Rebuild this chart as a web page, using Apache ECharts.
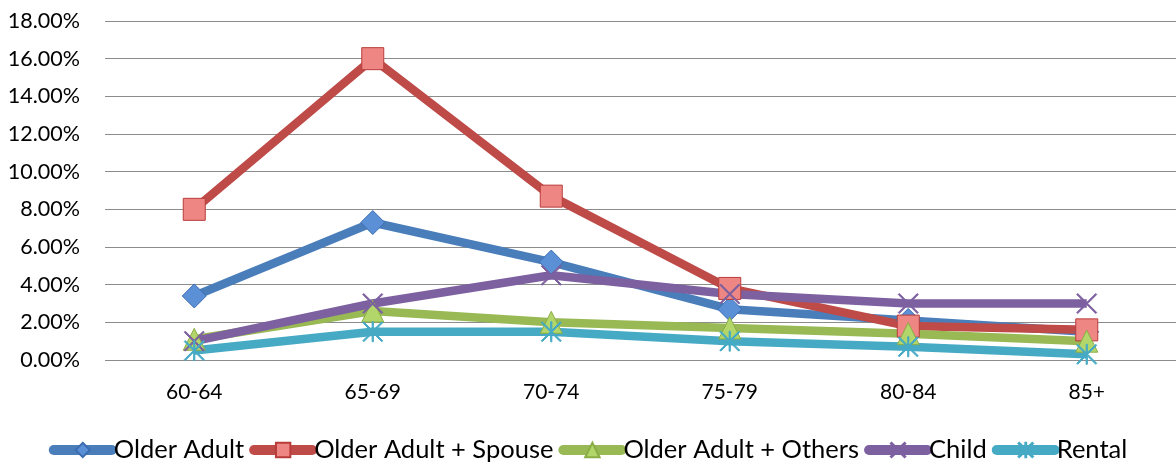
<!DOCTYPE html>
<html><head><meta charset="utf-8">
<script src="https://cdn.jsdelivr.net/npm/echarts@6/dist/echarts.min.js"></script>
<style>html,body{margin:0;padding:0;background:#fff}#c{width:1176px;height:463px}</style>
</head><body><div id="c"></div>
<script>
var categories = ['60-64','65-69','70-74','75-79','80-84','85+'];
var olderAdult = [3.4, 7.3, 5.2, 2.7, 2.1, 1.5];
var olderAdultSpouse = [8.0, 16.0, 8.7, 3.8, 1.8, 1.6];
var olderAdultOthers = [1.1, 2.6, 2.0, 1.7, 1.4, 1.0];
var child = [1.0, 3.0, 4.5, 3.5, 3.0, 3.0];
var rental = [0.5, 1.5, 1.5, 1.0, 0.7, 0.3];
var seriesNames = ['Older Adult','Older Adult + Spouse','Older Adult + Others','Child','Rental'];

var X_PATH = 'path://M0,1 L1,0 L10,9 L19,0 L20,1 L11,10 L20,19 L19,20 L10,11 L1,20 L0,19 L9,10 Z';
var STAR_PATH = X_PATH + ' M9.4,0 L10.6,0 L10.6,20 L9.4,20 Z';

function mk(name, data, color, fill, symbol, size, border){
  return {
    name: name, type: 'line', data: data,
    symbol: symbol, symbolSize: size,
    lineStyle: {width: 8.5, color: color},
    itemStyle: {color: fill, borderColor: border, borderWidth: 1},
    emphasis: {disabled: true}
  };
}
var chart = echarts.init(document.getElementById('c'));
chart.setOption({
  animation: false,
  textStyle: {fontFamily: 'Lato, "Open Sans", sans-serif'},
  grid: {left: 105, top: 21, width: 1074, bottom: 103},
  legend: {
    top: 432, left: 'center', itemWidth: 58, itemHeight: 18, itemGap: 5,
    lineStyle: {width: 10, cap: 'round'},
    textStyle: {fontSize: 25.5, color: '#000', fontFamily: 'Lato, sans-serif', padding: [0,0,0,-3]},
    data: seriesNames
  },
  xAxis: {
    type: 'category', data: categories, boundaryGap: true,
    axisLine: {show: false}, axisTick: {show: false},
    axisLabel: {fontSize: 21, color: '#000', margin: 22}
  },
  yAxis: {
    type: 'value', min: 0, max: 18, interval: 2,
    axisLabel: {fontSize: 21.5, color: '#000', margin: 25,
      formatter: function(v){ return v.toFixed(2) + '%'; }},
    splitLine: {lineStyle: {color: '#8c8c8c', width: 1.2}},
    axisLine: {show: false}, axisTick: {show: false}
  },
  series: [
    mk(seriesNames[0], olderAdult, '#4a7ebb', '#5b8fd6', 'diamond', 24, '#3c6db0'),
    mk(seriesNames[1], olderAdultSpouse, '#be4b48', '#ee8684', 'rect', 22, '#b83d3a'),
    mk(seriesNames[2], olderAdultOthers, '#98b954', '#b2d66a', 'triangle', 22, '#8aad45'),
    mk(seriesNames[3], child, '#7d60a0', '#7d60a0', X_PATH, 20, '#7d60a0'),
    mk(seriesNames[4], rental, '#46aac5', '#46aac5', STAR_PATH, 20, '#46aac5')
  ]
});
</script></body></html>
